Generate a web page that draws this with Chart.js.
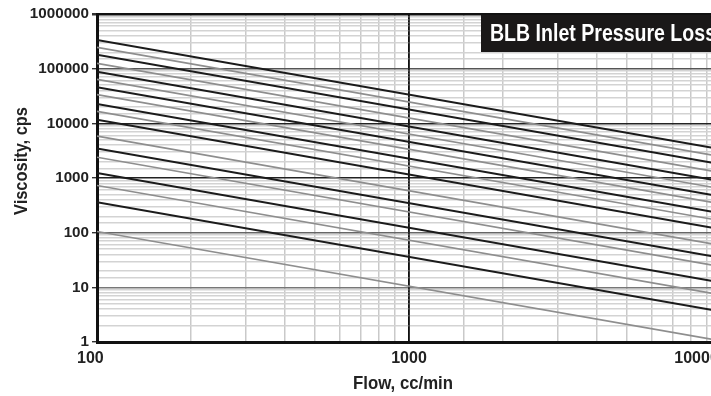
<!DOCTYPE html>
<html>
<head>
<meta charset="utf-8">
<script src="https://cdn.jsdelivr.net/npm/chart.js@4/dist/chart.umd.min.js"></script>
<style>
html, body { margin: 0; padding: 0; background: #fff; overflow: hidden; width: 711px; height: 396px; }
#wrap { width: 800px; height: 396px; }
</style>
</head>
<body>
<div id="wrap"><canvas id="c" width="800" height="396"></canvas></div>
<script>
// ---- data ----
const flowEnds = [100, 10000];                     // cc/min, line start and end
const blackViscAt100   = [335000, 179000, 87500, 45800, 22600, 11600, 3460, 1230, 360];
const blackViscAt10000 = [3350, 1790, 875, 458, 226, 116, 34.6, 12.3, 3.6];
const grayViscAt100    = [245000, 125000, 63500, 33600, 16500, 5850, 2400, 730, 105];
const grayViscAt10000  = [2450, 1250, 635, 336, 165, 58.5, 24, 7.3, 1.05];
const yTickLabels = ['1', '10', '100', '1000', '10000', '100000', '1000000'];
const xTickLabels = ['100', '1000', '10000'];
const chartTitle = 'BLB Inlet Pressure Loss';
const xTitle = 'Flow, cc/min';
const yTitle = 'Viscosity, cps';

const FONT = '"Liberation Sans", Arial, sans-serif';

function makeSets(at100, at10000, color, width) {
  return at100.map((v, i) => ({
    data: [{x: flowEnds[0], y: v}, {x: flowEnds[1], y: at10000[i]}],
    borderColor: color, borderWidth: width, pointRadius: 0, fill: false, tension: 0
  }));
}
const datasets = [
  ...makeSets(grayViscAt100, grayViscAt10000, '#8e8e8e', 1.7),
  ...makeSets(blackViscAt100, blackViscAt10000, '#1b1b1b', 2)
];

const isPow10 = v => { const l = Math.log10(v); return Math.abs(l - Math.round(l)) < 1e-9; };
const yMajorColor = {0: '#111', 1: '#777', 2: '#666', 3: '#222', 4: '#222', 5: '#555', 6: '#111'};
// trailing spaces nudge the centred x labels left, as in the original artwork
const xLabelNudge = {'100': 3, '1000': 0, '10000': 11};

function squeezedText(ctx, text, x, y, width, angle) {
  const w = ctx.measureText(text).width;
  ctx.save();
  ctx.translate(x, y);
  if (angle) ctx.rotate(angle);
  ctx.scale(width / w, 1);
  ctx.fillText(text, 0, 0);
  ctx.restore();
}

const overlay = {
  id: 'overlay',
  beforeDatasetsDraw(chart) {
    const ctx = chart.ctx, a = chart.chartArea;
    const px = chart.scales.x.getPixelForValue(1000);
    ctx.save();
    ctx.strokeStyle = '#111';
    ctx.lineWidth = 1.4;
    ctx.beginPath();
    ctx.moveTo(px, a.top);
    ctx.lineTo(px, a.bottom);
    ctx.stroke();
    ctx.restore();
  },
  afterDraw(chart) {
    const ctx = chart.ctx;
    const a = chart.chartArea;
    ctx.save();
    ctx.fillStyle = '#1a1818';
    ctx.fillRect(481, a.top + 1, 340, 52 - a.top - 1);
    ctx.font = 'bold 23.5px ' + FONT;
    ctx.fillStyle = '#fff';
    ctx.textBaseline = 'alphabetic';
    ctx.textAlign = 'left';
    squeezedText(ctx, chartTitle, 490, 41, 226, 0);
    ctx.fillStyle = '#222';
    ctx.font = 'bold 19px ' + FONT;
    ctx.textAlign = 'center';
    squeezedText(ctx, xTitle, 403, 389, 100, 0);
    squeezedText(ctx, yTitle, 27, 161, 108, -Math.PI / 2);
    ctx.restore();
  }
};

new Chart(document.getElementById('c'), {
  type: 'line',
  data: { datasets },
  plugins: [overlay],
  options: {
    responsive: false,
    animation: false,
    layout: { padding: { top: 14, right: 79, left: 0, bottom: 0 } },
    plugins: { legend: { display: false }, tooltip: { enabled: false }, title: { display: false } },
    scales: {
      x: {
        type: 'logarithmic', min: 100, max: 10000,
        afterFit(s) { s.height = 54; },
        border: { color: '#111', width: 3 },
        grid: {
          drawTicks: false,
          color: c => (c.tick && isPow10(c.tick.value)) ? '#111' : '#c9c9c9',
          lineWidth: 1.5
        },
        ticks: {
          autoSkip: false, maxRotation: 0, padding: 7, color: '#222',
          font: { family: FONT, size: 16, weight: 'bold' },
          callback: v => {
            const s = String(Math.round(v));
            if (!(xTickLabels.includes(s) && isPow10(v))) return '';
            return s + ' '.repeat(xLabelNudge[s] || 0);
          }
        }
      },
      y: {
        type: 'logarithmic', min: 1, max: 1000000,
        afterFit(s) { s.width = 97; },
        border: { color: '#111', width: 3 },
        grid: {
          tickLength: 5,
          color: c => { const v = c.tick.value; return isPow10(v) ? yMajorColor[Math.round(Math.log10(v))] : '#d3d3d3'; },
          lineWidth: c => { const v = c.tick.value; return v === 1000000 ? 2.5 : 1.4; },
          tickColor: c => isPow10(c.tick.value) ? '#333' : 'rgba(0,0,0,0)'
        },
        ticks: {
          autoSkip: false, padding: 3, color: '#222',
          font: { family: FONT, size: 15.2, weight: 'bold' },
          callback: v => { const s = String(Math.round(v)); return yTickLabels.includes(s) && isPow10(v) ? s : ''; }
        }
      }
    }
  }
});
</script>
</body>
</html>
